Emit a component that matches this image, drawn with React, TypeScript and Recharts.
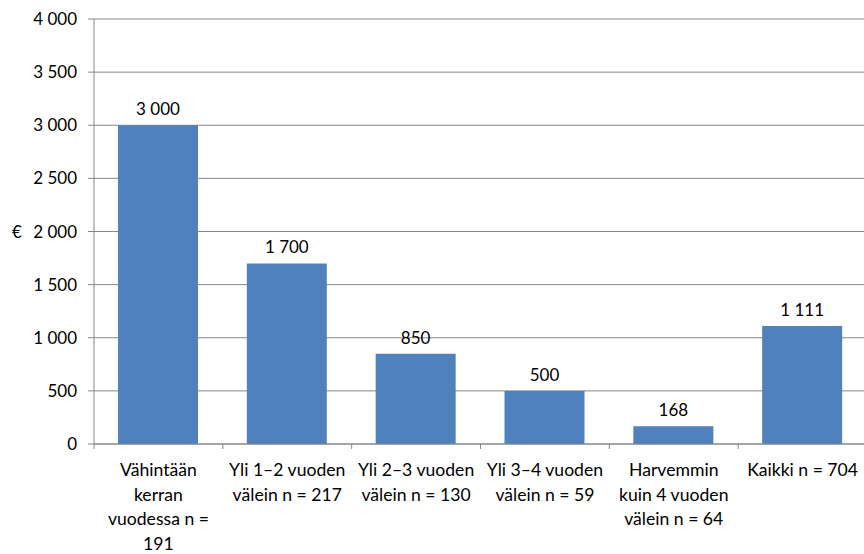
import React from 'react';
import { BarChart, Bar, XAxis, YAxis, CartesianGrid, LabelList, Label } from 'recharts';

const categories = [
  'Vähintään\nkerran\nvuodessa n =\n191',
  'Yli 1–2 vuoden\nvälein n = 217',
  'Yli 2–3 vuoden\nvälein n = 130',
  'Yli 3–4 vuoden\nvälein n = 59',
  'Harvemmin\nkuin 4 vuoden\nvälein n = 64',
  'Kaikki n = 704',
];
const values = [3000, 1700, 850, 500, 168, 1111];
const yTicks = [0, 500, 1000, 1500, 2000, 2500, 3000, 3500, 4000];

const FONT = 'Lato, "Open Sans", sans-serif';
const FS = 17;
const GRID = '#868686';

const fmt = (v: number) => String(v).replace(/\B(?=(\d{3})+(?!\d))/g, ' ');

const data = categories.map((name, i) => ({ name, value: values[i] }));

const CatTick = (props: any) => {
  const { x, y, payload, index } = props;
  const half = payload.offset || 64;
  const lines = String(payload.value).split('\n');
  return (
    <g>
      <line x1={x - half} x2={x - half} y1={y} y2={y + 5} stroke={GRID} />
      {index === categories.length - 1 && (
        <line x1={x + half} x2={x + half} y1={y} y2={y + 5} stroke={GRID} />
      )}
      <text x={x} y={y + 32} textAnchor="middle" fontSize={17.6} fill="#000" fontFamily={FONT}>
        {lines.map((l, i) => (
          <tspan key={i} x={x} dy={i === 0 ? 0 : 24.5}>{l}</tspan>
        ))}
      </text>
    </g>
  );
};

export default function App() {
  return (
    <div style={{ position: 'absolute', left: 0, top: 0, width: 864, height: 554, overflow: 'hidden', background: '#fff' }}>
      <BarChart
        width={867}
        height={554}
        data={data}
        margin={{ top: 19, right: 0, bottom: 0, left: 0 }}
        barSize={80}
      >
        <CartesianGrid vertical={false} stroke={GRID} />
        <XAxis
          dataKey="name"
          interval={0}
          height={110}
          tickSize={0}
          tickMargin={0}
          tickLine={false}
          axisLine={{ stroke: GRID }}
          tick={<CatTick />}
        />
        <YAxis
          width={94}
          domain={[0, 4000]}
          ticks={yTicks}
          interval={0}
          tickFormatter={fmt}
          tickSize={6}
          tickMargin={11}
          axisLine={{ stroke: GRID }}
          tickLine={{ stroke: GRID }}
          tick={{ fontSize: FS, fill: '#000', fontFamily: FONT }}
        >
          <Label value="€" position="insideLeft" offset={12} fontSize={FS} fill="#000" fontFamily={FONT} />
        </YAxis>
        <Bar dataKey="value" fill="#4F81BD" isAnimationActive={false}>
          <LabelList dataKey="value" position="top" offset={10} formatter={(v: any) => fmt(v)} fontSize={FS} fill="#000" fontFamily={FONT} />
        </Bar>
      </BarChart>
    </div>
  );
}
